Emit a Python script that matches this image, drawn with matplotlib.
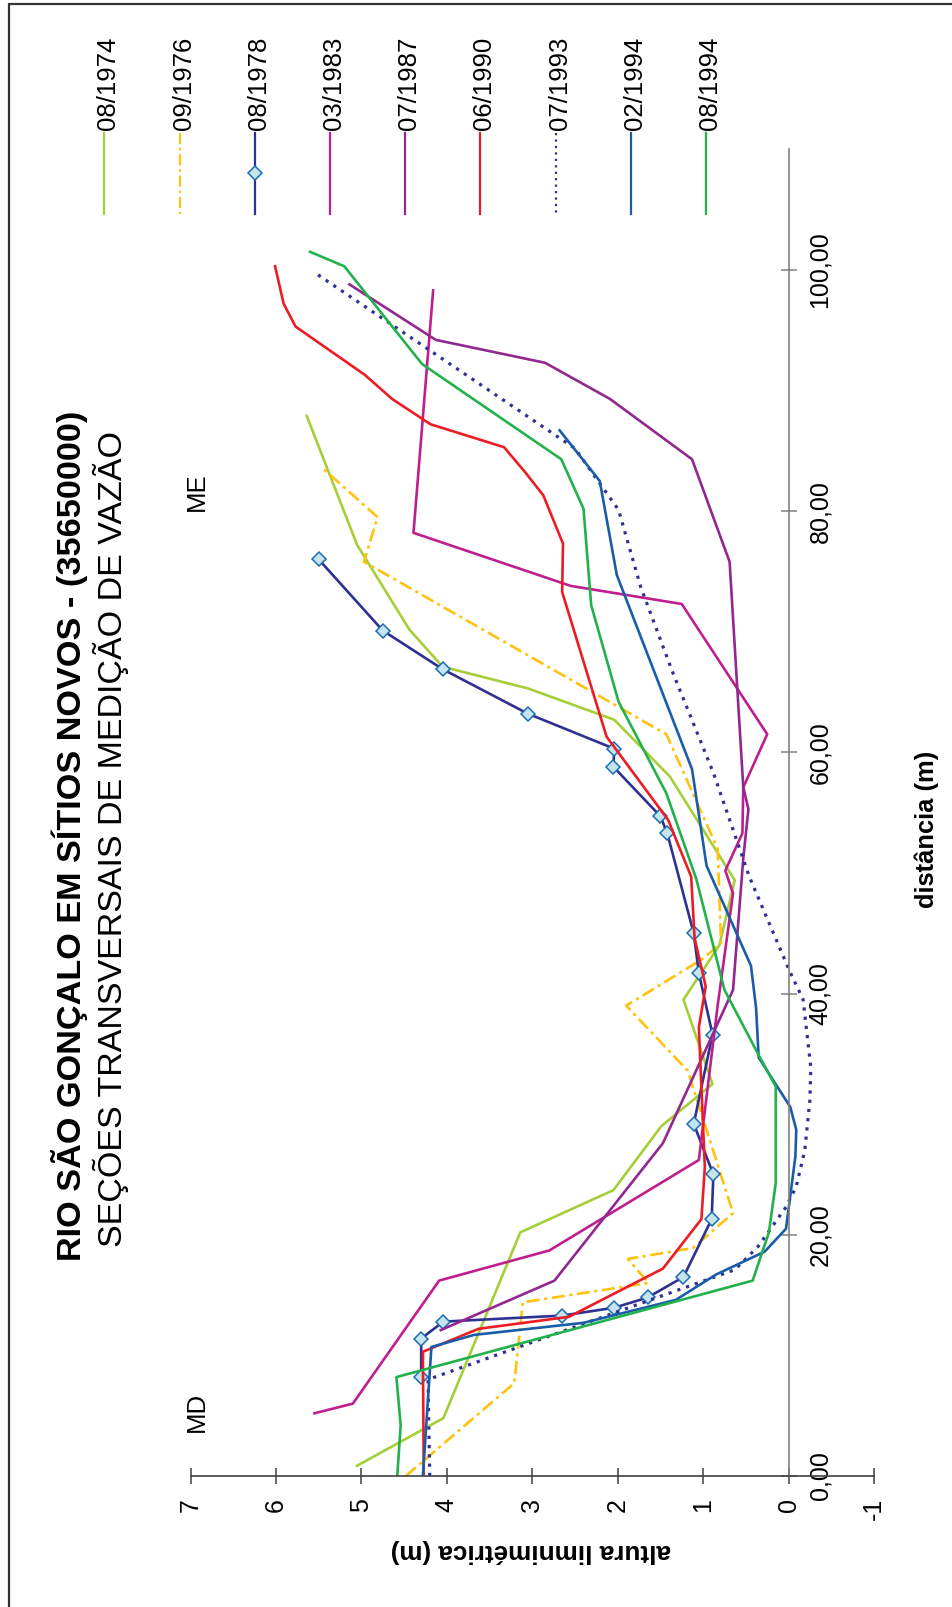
import matplotlib
matplotlib.use("Agg")
import matplotlib.pyplot as plt
from matplotlib.lines import Line2D
from matplotlib.patches import Rectangle

plt.rcParams["font.family"] = ["Liberation Sans", "DejaVu Sans"]

# =========================
# DADOS (distância em m, altura em m)
# =========================

datas = ["08/1974", "09/1976", "08/1978", "03/1983", "07/1987",
         "06/1990", "07/1993", "02/1994", "08/1994"]

dist_0874 = [0.85, 4.8, 20.2, 23.7, 29.0, 32.5, 39.5, 44.0, 49.4, 58.0,
             62.7, 65.3, 67.1, 70.2, 77.2, 87.9]
alt_0874 = [5.05, 4.04, 3.14, 2.05, 1.49, 0.89, 1.23, 0.81, 0.63, 1.39,
            2.04, 3.05, 4.05, 4.44, 5.05, 5.64]

dist_0976 = [0.0, 7.7, 14.4, 16.0, 18.0, 18.9, 21.8, 33.6, 39.0, 42.9,
             44.2, 52.0, 61.5, 75.8, 79.5, 83.6]
alt_0976 = [4.48, 3.21, 3.11, 1.64, 1.88, 1.12, 0.65, 1.18, 1.90, 1.00,
            0.79, 0.83, 1.43, 4.97, 4.81, 5.46]

dist_0878 = [8.2, 11.4, 12.8, 13.3, 13.95, 14.8, 16.5, 21.3, 25.0, 29.2,
             36.6, 41.7, 45.0, 53.3, 54.7, 58.8, 60.3, 63.2, 66.9, 70.1, 76.0]
alt_0878 = [4.30, 4.30, 4.04, 2.65, 2.04, 1.65, 1.23, 0.90, 0.88, 1.11,
            0.89, 1.05, 1.11, 1.42, 1.50, 2.05, 2.04, 3.05, 4.05, 4.75, 5.50]

dist_0383 = [5.2, 6.0, 16.2, 18.7, 26.2, 39.0, 48.3, 50.2, 53.3, 57.1,
             61.5, 72.3, 73.8, 78.2, 98.3]
alt_0383 = [5.55, 5.10, 4.09, 2.80, 1.05, 0.83, 0.65, 0.74, 0.54, 0.53,
            0.25, 1.25, 2.55, 4.39, 4.16]

dist_0787 = [12.1, 16.2, 27.6, 40.3, 51.2, 55.3, 57.1, 75.8, 84.3, 89.3,
             92.3, 94.2, 98.8]
alt_0787 = [4.07, 2.74, 1.47, 0.65, 0.53, 0.47, 0.53, 0.69, 1.13, 2.09,
            2.85, 4.13, 5.14]

dist_0690 = [0.0, 10.3, 12.2, 13.2, 17.2, 21.3, 25.6, 37.2, 40.6, 44.6,
             49.7, 54.4, 61.3, 73.3, 77.3, 81.3, 83.2, 85.3, 87.2, 89.3,
             91.3, 95.3, 97.2, 100.3]
alt_0690 = [4.27, 4.28, 3.63, 2.57, 1.47, 1.02, 0.98, 1.05, 0.97, 1.10,
            1.14, 1.41, 2.13, 2.65, 2.64, 2.87, 3.08, 3.33, 4.19, 4.64,
            4.96, 5.77, 5.91, 6.01]

dist_0793 = [0.0, 8.0, 17.1, 19.0, 22.3, 24.0, 27.0, 31.2, 33.9, 39.5,
             41.9, 49.7, 58.3, 66.7, 73.7, 80.1, 85.2, 99.7]
alt_0793 = [4.20, 4.22, 0.63, 0.36, 0.03, -0.09, -0.19, -0.25, -0.26, -0.17,
            -0.01, 0.46, 0.88, 1.36, 1.73, 1.99, 2.50, 5.53]

dist_0294 = [0.0, 10.7, 11.7, 12.7, 14.6, 16.7, 18.6, 20.5, 26.5, 28.7,
             30.6, 34.7, 38.8, 42.3, 50.6, 58.6, 74.7, 82.5, 86.7]
alt_0294 = [4.28, 4.18, 3.68, 2.40, 1.32, 0.85, 0.28, 0.03, -0.08, -0.09,
            -0.02, 0.35, 0.38, 0.44, 0.96, 1.13, 2.01, 2.21, 2.68]

dist_0894 = [0.0, 4.2, 8.2, 16.2, 20.2, 24.3, 32.3, 34.9, 40.3, 49.5,
             56.6, 64.2, 72.2, 80.2, 84.3, 92.2, 100.3, 101.5]
alt_0894 = [4.58, 4.54, 4.59, 0.42, 0.23, 0.15, 0.15, 0.35, 0.75, 1.08,
            1.43, 1.99, 2.31, 2.40, 2.66, 4.29, 5.20, 5.60]

dist_ticks = [0, 20, 40, 60, 80, 100]
dist_labels = ["0,00", "20,00", "40,00", "60,00", "80,00", "100,00"]
alt_ticks = [7, 6, 5, 4, 3, 2, 1, 0, -1]
alt_labels = ["7", "6", "5", "4", "3", "2", "1", "0", "-1"]

series = [(dist_0874, alt_0874), (dist_0976, alt_0976), (dist_0878, alt_0878),
          (dist_0383, alt_0383), (dist_0787, alt_0787), (dist_0690, alt_0690),
          (dist_0793, alt_0793), (dist_0294, alt_0294), (dist_0894, alt_0894)]

# estilo de cada seção
cores = ["#A6CE39", "#FFC20E", "#2E3192", "#BF1E8E", "#92278F",
         "#ED1C24", "#2E3192", "#1B5CA8", "#22B24C"]
tracos = ["-", (0, (5.0, 1.7, 1.2, 1.7)), "-", "-", "-",
          "-", (0, (1.0, 1.9)), "-", "-"]
larguras = [1.9, 1.9, 1.9, 1.9, 1.9, 1.9, 2.3, 1.9, 1.9]

marker_kw = dict(marker="D", markersize=7.5, markerfacecolor="#C5E4EC",
                 markeredgecolor="#1C6DB5", markeredgewidth=1.1)

# =========================
# FIGURA
# =========================

W, H = 952, 1607
fig = plt.figure(figsize=(W / 100, H / 100), dpi=100)

# moldura
fig.add_artist(Rectangle((8.5 / W, -0.1), 2, 1.1 - 4 / H,
                         transform=fig.transFigure, fill=False,
                         edgecolor="#333333", linewidth=1.6))

ax = fig.add_axes([190.5 / W, 1 - 1476 / H, (874 - 190.5) / W, (1476 - 149.3) / H])

for i, (d, a) in enumerate(series):
    kw = marker_kw if i == 2 else {}
    ax.plot(a, d, color=cores[i], linestyle=tracos[i], linewidth=larguras[i],
            dash_capstyle="butt", **kw)

ax.set_xlim(7, -1)
ax.set_ylim(0, 110)

for s in ["top", "left"]:
    ax.spines[s].set_visible(False)
ax.spines["right"].set_position(("data", 0))
ax.spines["right"].set_color("#808080")
ax.spines["right"].set_linewidth(1.2)
ax.spines["bottom"].set_color("#404040")
ax.spines["bottom"].set_linewidth(1.2)

ax.set_xticks(alt_ticks)
ax.set_xticklabels(alt_labels, rotation=90)
ax.yaxis.tick_right()
ax.set_yticks(dist_ticks)
ax.set_yticklabels(dist_labels, rotation=90, va="center")

ax.tick_params(axis="x", direction="inout", length=12, width=1.1,
               color="#404040", labelsize=18, pad=10)
ax.tick_params(axis="y", direction="inout", length=12, width=1.1,
               color="#808080", labelsize=18, pad=8)

# textos
fig.text(70 / W, 1 - 836 / H, "RIO SÃO GONÇALO EM SÍTIOS NOVOS - (35650000)",
         rotation=90, ha="center", va="center", fontsize=24.7, fontweight="bold")
fig.text(111 / W, 1 - 839 / H, "SEÇÕES TRANSVERSAIS DE MEDIÇÃO DE VAZÃO",
         rotation=90, ha="center", va="center", fontsize=24.5)
fig.text(197 / W, 1 - 492 / H, "ME", rotation=90, ha="center", va="center", fontsize=18.5)
fig.text(197 / W, 1 - 1412 / H, "MD", rotation=90, ha="center", va="center", fontsize=18.5)
fig.text(927 / W, 1 - 829 / H, "distância (m)", rotation=90, ha="center",
         va="center", fontsize=18.4, fontweight="bold")
fig.text(531 / W, 1 - 1551 / H, "altura limnimétrica (m)", rotation=180,
         ha="center", va="center", fontsize=18.8, fontweight="bold")

# legenda (vertical)
for i, nome in enumerate(datas):
    x = 104.4 + 75.2 * i
    fig.add_artist(Line2D([x / W, x / W], [1 - 133 / H, 1 - 214 / H],
                          transform=fig.transFigure, color=cores[i],
                          linestyle=tracos[i], linewidth=1.6, dash_capstyle="butt"))
    if i == 2:
        fig.add_artist(Line2D([x / W], [1 - 173 / H], transform=fig.transFigure,
                              linestyle="none", **marker_kw))
    fig.text((x + 4) / W, 1 - 130 / H, nome, rotation=90, ha="center",
             va="bottom", fontsize=18.5)

fig.savefig("out.png", dpi=100)
